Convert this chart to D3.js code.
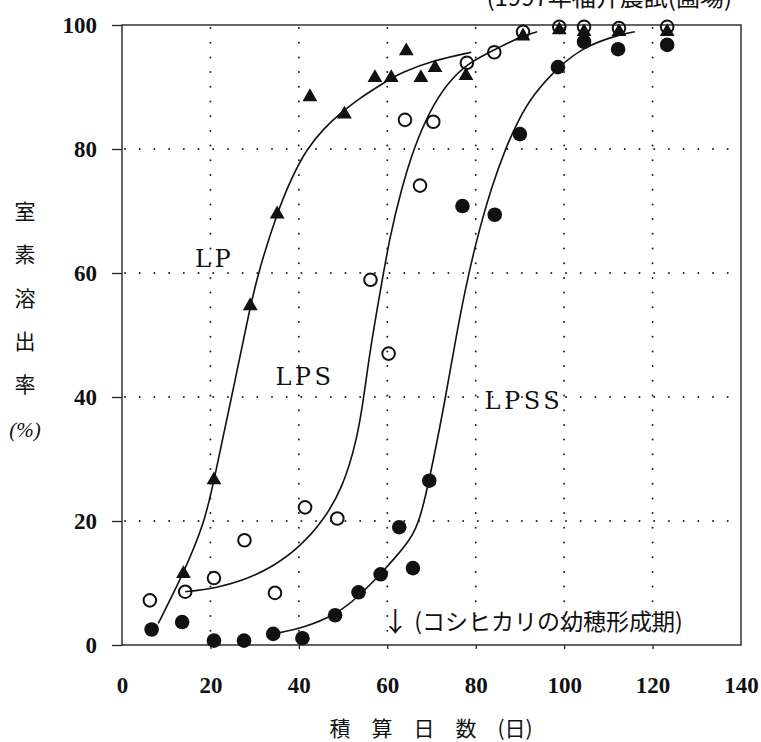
<!DOCTYPE html>
<html><head><meta charset="utf-8">
<script src="https://cdn.jsdelivr.net/npm/d3@7"></script>
<style>body{margin:0;background:#fff}svg{display:block}</style>
</head><body>
<svg id="c" width="761" height="742"></svg>
<script>
// ---- data ----
const xTicks = [0, 20, 40, 60, 80, 100, 120, 140];
const yTicks = [0, 20, 40, 60, 80, 100];
const gridXVals = [20, 40, 60, 80, 100, 120];
const gridYVals = [20, 40, 60, 80];

// LP (filled triangles)
const lpDays = [13.9, 20.8, 29, 35.1, 42.5, 50.3, 57.2, 60.9, 64.3, 67.6, 70.8, 77.8, 90.7, 98.9, 104.5, 112.4, 123.3];
const lpVals = [11.5, 26.6, 54.7, 69.5, 88.4, 85.6, 91.5, 91.5, 95.8, 91.5, 93.1, 91.8, 98.2, 99.2, 98.9, 98.9, 98.9];
// LPS (open circles)
const lpsDays = [6.3, 14.3, 20.8, 27.7, 34.6, 41.4, 48.7, 56.2, 60.3, 64.0, 67.4, 70.4, 78, 84.2, 90.7, 98.9, 104.5, 112.4, 123.3];
const lpsVals = [7.2, 8.6, 10.8, 16.9, 8.4, 22.2, 20.4, 58.9, 47.0, 84.7, 74.1, 84.4, 93.9, 95.6, 98.9, 99.7, 99.7, 99.5, 99.7];
// LPSS (filled circles)
const lpssDays = [6.7, 13.6, 20.8, 27.6, 34.2, 40.8, 48.2, 53.5, 58.5, 62.7, 65.8, 69.5, 77, 84.3, 90, 98.6, 104.5, 112.2, 123.3];
const lpssVals = [2.5, 3.7, 0.7, 0.7, 1.8, 1.1, 4.8, 8.5, 11.4, 19, 12.4, 26.5, 70.8, 69.4, 82.4, 93.2, 97.3, 96.1, 96.8];

// fitted curves
const lpCurveDays = [8.2, 13.9, 18.8, 20.8, 24.8, 29, 30.8, 35, 38.5, 41.8, 45.5, 49.3, 53.1, 59.5, 63, 70.5, 79];
const lpCurveVals = [3.5, 11.5, 20, 26.6, 40, 54.6, 60, 69.6, 75.6, 80, 83.2, 85.7, 87.9, 90.8, 92.3, 94.3, 95.6];
const lpsCurveDays = [14.3, 16.1, 21, 26.7, 34.2, 40.3, 45.5, 50, 53.1, 54.6, 56.2, 58.4, 60.6, 63.2, 65.9, 69.7, 73.5, 78, 84.8, 90.7, 93.9];
const lpsCurveVals = [8.6, 8.7, 9.2, 10.2, 12.6, 15.9, 20, 25.5, 33, 39.5, 48, 57, 66, 73.5, 80, 86.3, 90.5, 93.8, 96.2, 98.3, 98.9];
const lpssCurveDays = [35.7, 41, 48.2, 53.5, 58.4, 61.8, 65.2, 67.3, 69.5, 73.1, 75.7, 78.4, 81, 83.6, 86.7, 89.5, 93, 98.6, 104.5, 112.2, 116];
const lpssCurveVals = [2, 2.8, 4.8, 7.8, 11.4, 14.1, 17, 20, 26.5, 39.5, 50.4, 60, 67.5, 73.9, 80, 84.5, 88.8, 93.2, 96.5, 98.4, 98.9];

const seriesLabels = ["LP", "LPS", "LPSS"];
const seriesLabelPos = [[16.5, 61], [34.7, 42], [82, 38]];
const markerDay = 61.8;
const markerText = "(コシヒカリの幼穂形成期)";
const yTitleChars = ["室", "素", "溶", "出", "率", "(%)"];
const xTitle = "積　算　日　数　(日)";
const topNote = "(1997年福井農試(圃場)";

// ---- drawing ----
const svg = d3.select("#c");
const x = d3.scaleLinear().domain([0, 140]).range([122, 741]);
const y = d3.scaleLinear().domain([0, 100]).range([645, 25]);
const serif = "'Liberation Serif','DejaVu Serif',serif";
const wideSerif = "'DejaVu Serif','Liberation Serif',serif";
const cjk = "'Noto Sans CJK JP','Noto Sans CJK SC',sans-serif";

svg.append("rect").attr("width", 761).attr("height", 742).attr("fill", "#fff");

// top note (cut off at top, as in the original)
svg.append("text").attr("x", 732).attr("y", 6).attr("text-anchor", "end")
  .attr("font-family", cjk).attr("font-size", 24).attr("fill", "#111").text(topNote);

// dotted grid
const grid = svg.append("g").attr("stroke", "#222").attr("stroke-width", 2)
  .attr("stroke-linecap", "round").attr("stroke-dasharray", "0 14.7");
grid.selectAll(".gx").data(gridXVals).join("line").attr("class", "gx")
  .attr("x1", d => x(d)).attr("x2", d => x(d)).attr("y1", y(100) + 3).attr("y2", y(0));
grid.selectAll(".gy").data(gridYVals).join("line").attr("class", "gy")
  .attr("y1", d => y(d)).attr("y2", d => y(d)).attr("x1", x(0) + 3).attr("x2", x(140));

// frame
svg.append("rect").attr("x", x(0)).attr("y", y(100))
  .attr("width", x(140) - x(0)).attr("height", y(0) - y(100))
  .attr("fill", "none").attr("stroke", "#222").attr("stroke-width", 1.4);

// axes
const ya = svg.append("g").attr("transform", `translate(${x(0)},0)`)
  .call(d3.axisLeft(y).tickValues(yTicks).tickSize(10).tickPadding(15).tickFormat(d3.format("d")));
ya.select(".domain").remove();
const xa = svg.append("g").attr("transform", `translate(0,${y(0)})`)
  .call(d3.axisBottom(x).tickValues(xTicks).tickSize(4).tickPadding(28).tickFormat(d3.format("d")));
xa.select(".domain").remove();
[ya, xa].forEach(a => {
  a.selectAll("line").attr("stroke", "#222").attr("stroke-width", 1.3);
  a.selectAll("text").attr("font-family", serif).attr("font-size", 23)
    .attr("font-weight", "bold").attr("fill", "#111");
});
xa.selectAll(".tick").filter(d => d === 0 || d === 140).select("line").remove();

// curves
const line = d3.line().x(d => x(d[0])).y(d => y(d[1])).curve(d3.curveBasis);
const curves = [
  d3.zip(lpCurveDays, lpCurveVals),
  d3.zip(lpsCurveDays, lpsCurveVals),
  d3.zip(lpssCurveDays, lpssCurveVals)
];
svg.append("g").selectAll("path").data(curves).join("path")
  .attr("d", line).attr("fill", "none").attr("stroke", "#111").attr("stroke-width", 1.6);

// points
svg.append("g").selectAll("circle").data(d3.zip(lpsDays, lpsVals)).join("circle")
  .attr("cx", d => x(d[0])).attr("cy", d => y(d[1])).attr("r", 6.3)
  .attr("fill", "none").attr("stroke", "#111").attr("stroke-width", 2);
svg.append("g").selectAll("path").data(d3.zip(lpDays, lpVals)).join("path")
  .attr("transform", d => `translate(${x(d[0])},${y(d[1])})`)
  .attr("d", d3.symbol(d3.symbolTriangle, 95)).attr("fill", "#111");
svg.append("g").selectAll("circle").data(d3.zip(lpssDays, lpssVals)).join("circle")
  .attr("cx", d => x(d[0])).attr("cy", d => y(d[1])).attr("r", 7.3).attr("fill", "#111");

// series labels
svg.append("g").selectAll("text").data(seriesLabels).join("text")
  .attr("x", (d, i) => x(seriesLabelPos[i][0])).attr("y", (d, i) => y(seriesLabelPos[i][1]))
  .attr("font-family", wideSerif).attr("font-size", 24).attr("letter-spacing", 3.5)
  .attr("fill", "#111").text(d => d);

// marker annotation
svg.append("text").attr("x", x(markerDay)).attr("y", 620).attr("text-anchor", "middle")
  .attr("dominant-baseline", "central")
  .attr("font-family", cjk).attr("font-size", 27).attr("fill", "#111").text("↓");
svg.append("text").attr("x", x(markerDay) + 19).attr("y", 620)
  .attr("dominant-baseline", "central")
  .attr("font-family", cjk).attr("font-size", 23).attr("fill", "#111").text(markerText);

// y title (vertical)
const yTitleY = [210, 253, 297, 340, 383, 430];
svg.append("g").selectAll("text").data(yTitleChars).join("text")
  .attr("x", 25).attr("y", (d, i) => yTitleY[i]).attr("text-anchor", "middle")
  .attr("dominant-baseline", "central")
  .attr("font-family", (d, i) => i === 5 ? serif : cjk).attr("font-size", 21)
  .attr("font-style", (d, i) => i === 5 ? "italic" : "normal")
  .attr("fill", "#111").text(d => d);

// x title
svg.append("text").attr("x", 431).attr("y", 727).attr("text-anchor", "middle")
  .attr("dominant-baseline", "central")
  .attr("font-family", cjk).attr("font-size", 21).attr("fill", "#111").text(xTitle);
</script>
</body></html>
